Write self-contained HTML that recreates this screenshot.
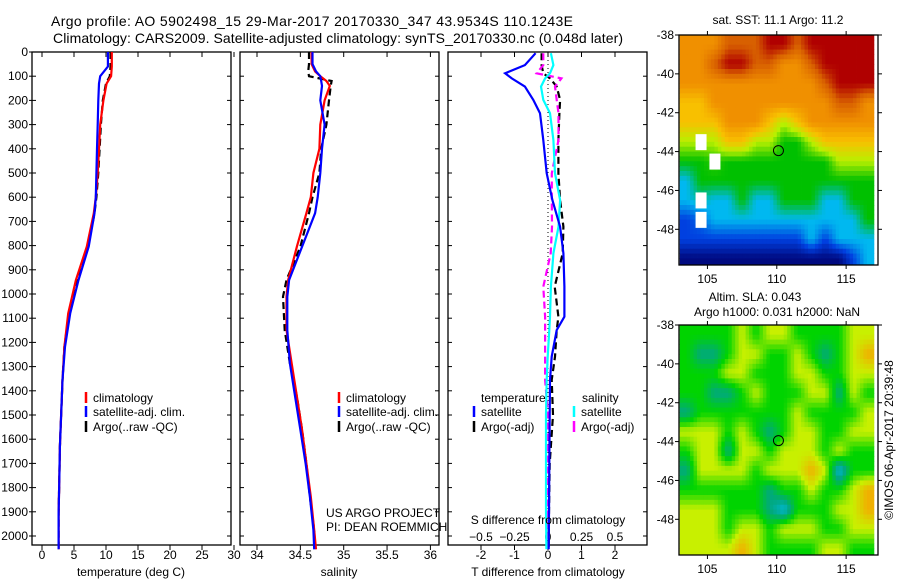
<!DOCTYPE html>
<html><head><meta charset="utf-8"><style>
body{margin:0;background:#fff;}
svg{display:block;font-family:"Liberation Sans",Arial,sans-serif;}
text{fill:#000;}
</style></head><body>
<svg id="fig" width="900" height="580" viewBox="0 0 900 580" xmlns="http://www.w3.org/2000/svg">
<text x="51" y="26" font-size="14" textLength="522">Argo profile: AO 5902498_15 29-Mar-2017 20170330_347 43.9534S 110.1243E</text>
<text x="53" y="43" font-size="14" textLength="570">Climatology: CARS2009. Satellite-adjusted climatology: synTS_20170330.nc (0.048d later)</text>
<g id="p1"></g>
<g id="p2"></g>
<g id="p3"></g>
<g id="m1"></g>
<g id="m2"></g>
<text x="131" y="576" font-size="12" text-anchor="middle">temperature (deg C)</text>
<text x="339" y="576" font-size="12" text-anchor="middle">salinity</text>
<text x="548" y="576" font-size="12" text-anchor="middle">T difference from climatology</text>
<text x="548" y="524" font-size="12" text-anchor="middle">S difference from climatology</text>
<text x="326" y="517" font-size="12">US ARGO PROJECT</text>
<text x="326" y="531" font-size="12">PI: DEAN ROEMMICH</text>
<text x="778" y="24" font-size="12" text-anchor="middle">sat. SST: 11.1 Argo: 11.2</text>
<text x="755" y="301" font-size="12" text-anchor="middle">Altim. SLA: 0.043</text>
<text x="777" y="316" font-size="12" text-anchor="middle">Argo h1000: 0.031 h2000: NaN</text>
<text font-size="12" text-anchor="middle" transform="translate(893,440) rotate(-90)">©IMOS 06-Apr-2017 20:39:48</text>
</svg>
<script>
// ---- profile data (depth in m) ----
const depthT=[0,60,100,130,200,300,400,500,600,666,804,942,1080,1218,1355,1493,1631,1769,1907,2055];
const tempClim=[10.9,10.9,10.8,10.1,9.6,9.1,8.9,8.7,8.4,8.1,7.0,5.3,4.1,3.5,3.2,3.0,2.8,2.7,2.6,2.6];
const tempSat=[10.3,10.3,9.1,8.9,8.8,8.7,8.6,8.5,8.4,8.2,7.3,5.7,4.4,3.6,3.2,3.0,2.8,2.7,2.6,2.6];
const tempArgo=[10.7,10.7,10.6,10.0,9.5,9.2,9.0,8.8,8.5,8.2,7.2,5.5,4.2,3.5,3.2,3.0,2.8,2.7,2.6,2.6];
const depthS=[0,50,80,100,120,140,200,300,400,500,600,666,804,942,1011,1149,1287,1424,1562,1700,1838,1975,2055];
const salClim=[34.63,34.63,34.67,34.73,34.80,34.84,34.78,34.73,34.72,34.65,34.62,34.57,34.46,34.36,34.34,34.34,34.40,34.46,34.52,34.57,34.62,34.66,34.68];
const salSat=[34.64,34.64,34.68,34.73,34.74,34.75,34.73,34.78,34.75,34.73,34.70,34.67,34.52,34.37,34.35,34.35,34.38,34.44,34.50,34.56,34.61,34.65,34.66];
const salArgo=[34.60,34.60,34.59,34.60,34.86,34.85,34.83,34.80,34.74,34.72,34.64,34.60,34.50,34.34,34.30,34.32,34.38,34.46,34.52,34.57,34.61,34.66,34.67];
const depthD=[5,54,88,109,143,198,253,364,501,612,722,832,970,1094,1149,1259,1355,1500,1700,1900,2055];
const dTsat=[-0.37,-0.69,-1.28,-1.08,-0.69,-0.44,-0.24,-0.14,-0.04,0.13,0.36,0.46,0.49,0.49,0.26,0.11,0.06,0.05,0.04,0.03,0.02];
const dTargo=[-0.19,-0.19,-0.14,0.06,0.26,0.36,0.34,0.31,0.31,0.36,0.46,0.44,0.20,0.31,0.26,0.21,0.11,0.15,0.05,0.03,0.02];
const dSsat=[0.022,0.040,0.015,-0.022,-0.052,-0.035,0.015,0.040,0.052,0.090,0.078,0.040,0.022,0.015,0.010,-0.002,-0.010,-0.015,-0.015,-0.015,-0.012];
const dSargo=[-0.035,-0.035,-0.085,0.10,0.052,0.065,0.078,0.078,0.028,0.028,0.030,0.020,-0.035,-0.022,-0.022,-0.022,-0.022,0.0,0.0,0.0,0.002];
const depthTicks=[0,100,200,300,400,500,600,700,800,900,1000,1100,1200,1300,1400,1500,1600,1700,1800,1900,2000];
const tTicks=[0,5,10,15,20,25,30];
const sTicks=[34,34.5,35,35.5,36];
const dTTicks=[-2,-1,0,1,2];
const dSTicks=[-0.5,-0.25,0,0.25,0.5];
// ---- map data ----
const lonTicks=[105,110,115];
const latTicks=[-38,-40,-42,-44,-46,-48];
// SST colour class per 1x1 degree cell (rows lat -38.. -50, cols lon 103..117); 9 = missing
const sstGrid=[
[6,6,6,7,7,7,8,8,7,8,8,8,8,8],
[6,6,7,8,8,7,7,6,6,7,8,8,8,8],
[6,6,6,6,6,6,6,6,6,6,7,8,8,8],
[5,5,6,6,6,6,6,6,6,6,6,7,7,6],
[5,5,5,6,6,6,5,4,5,6,6,6,6,6],
[4,9,4,5,5,4,4,3,3,4,5,5,5,5],
[3,3,9,3,3,3,3,3,3,3,3,4,4,4],
[2,3,3,3,3,3,3,3,3,3,3,3,3,3],
[2,9,2,2,3,2,2,3,3,3,2,2,3,3],
[1,9,2,2,2,2,2,2,2,2,2,2,2,3],
[1,1,1,1,1,1,1,1,1,2,1,2,2,2],
[0,0,0,0,0,0,0,0,0,0,0,0,1,2]];
const slaGrid=[
[0,0,0,0,1,0,1,1,0,0,0,0,1,1],
[0,-1,-1,0,1,1,0,0,1,0,-1,0,1,2],
[0,0,0,1,1,0,0,0,1,1,0,0,1,1],
[0,0,-1,-1,0,1,0,0,0,1,1,-1,1,0],
[-1,0,0,0,0,0,0,0,1,0,0,0,0,1],
[1,1,1,0,1,0,-1,0,1,1,0,0,1,1],
[0,1,1,-1,1,1,0,1,1,1,0,1,0,0],
[-1,1,1,1,1,0,1,1,1,2,1,-2,0,0],
[0,0,0,0,0,0,-1,0,0,1,0,0,1,2],
[1,1,1,0,0,0,-1,-2,0,0,0,1,1,2],
[1,1,1,0,1,1,0,1,1,1,0,0,1,1],
[1,1,1,1,2,1,0,0,0,0,1,1,0,0]];

const NS='http://www.w3.org/2000/svg';
function mk(parent,tag,attrs){const e=document.createElementNS(NS,tag);for(const k in attrs)e.setAttribute(k,attrs[k]);parent.appendChild(e);return e;}
const Y0=52,Y1=545;
const yD=d=>Y0+d*0.242;

function panel(g,x0,x1,xs,ticks,labelY,fmt){
  const r=mk(g,'rect',{x:x0,y:Y0,width:x1-x0,height:Y1-Y0,fill:'none',stroke:'#000','stroke-width':1.3});
  
  
  depthTicks.forEach(d=>{const y=yD(d);
    mk(g,'line',{x1:x0,x2:x0+4,y1:y,y2:y,stroke:'#000'});
    mk(g,'line',{x1:x1-4,x2:x1,y1:y,y2:y,stroke:'#000'});});
  ticks.forEach(v=>{const x=xs(v);
    mk(g,'line',{x1:x,x2:x,y1:Y0,y2:Y0+5,stroke:'#000'});
    mk(g,'line',{x1:x,x2:x,y1:Y1,y2:Y1+5,stroke:'#000'});
    const t=mk(g,'text',{x:x,y:labelY,'font-size':12,'text-anchor':'middle'});
    
    
    t.textContent=fmt?fmt(v):String(v);});
}
function line(g,xs,vals,depths,color,dash,name){
  const pts=vals.map((v,i)=>xs(v).toFixed(1)+','+yD(depths[i]).toFixed(1)).join(' ');
  const p=mk(g,'polyline',{points:pts,fill:'none',stroke:color,'stroke-width':2.2});
  if(dash)p.setAttribute('stroke-dasharray',dash);
  
  
}
function legend(g,x,y,color,label){
  mk(g,'line',{x1:x,x2:x,y1:y-10,y2:y+1,stroke:color,'stroke-width':2.5});
  const t=mk(g,'text',{x:x+7,y:y,'font-size':12});
  
  
  t.textContent=label;
}
const svg=document.getElementById('fig');
depthTicks.forEach(d=>{const t=mk(svg,'text',{x:28,y:yD(d)+4,'font-size':12,'text-anchor':'end'});
  
  
  t.textContent=d;
  mk(svg,'line',{x1:29,x2:32,y1:yD(d),y2:yD(d),stroke:'#000'});});

// panel 1
const g1=document.getElementById('p1');
const xT=v=>42+6.4*v;
panel(g1,32,231,xT,tTicks,559);
line(g1,xT,tempArgo,depthT,'#000','7,4','argo-temperature-line');
line(g1,xT,tempClim,depthT,'#f00',null,'climatology-temperature-line');
line(g1,xT,tempSat,depthT,'#00f',null,'satellite-temperature-line');
legend(g1,86,402,'#f00','climatology');legend(g1,86,416,'#00f','satellite-adj. clim.');legend(g1,86,431,'#000','Argo(..raw -QC)');

// panel 2
const g2=document.getElementById('p2');
const xS=v=>257+86.7*(v-34);
panel(g2,240,439,xS,sTicks,559);
line(g2,xS,salArgo,depthS,'#000','7,4','argo-salinity-line');
line(g2,xS,salClim,depthS,'#f00',null,'climatology-salinity-line');
line(g2,xS,salSat,depthS,'#00f',null,'satellite-salinity-line');
legend(g2,339,402,'#f00','climatology');legend(g2,339,416,'#00f','satellite-adj. clim.');legend(g2,339,431,'#000','Argo(..raw -QC)');

// panel 3
const g3=document.getElementById('p3');
const xDT=v=>548+33.5*v;
const xDS=v=>548+134*v;
panel(g3,448,647,xDT,dTTicks,559);
dSTicks.forEach(v=>{const t=mk(g3,'text',{x:xDS(v),y:541,'font-size':12,'text-anchor':'middle'});
  
  
  t.textContent=String(v).replace(/^-/,'\u2212');});
mk(g3,'line',{x1:548,x2:548,y1:Y0,y2:Y1,stroke:'#000','stroke-dasharray':'1,3'});
line(g3,xDT,dTargo,depthD,'#000','7,4','argo-tdiff-line');
line(g3,xDS,dSargo,depthD,'#f0f','7,4','argo-sdiff-line');
line(g3,xDS,dSsat,depthD,'#0ff',null,'satellite-sdiff-line');
line(g3,xDT,dTsat,depthD,'#00f',null,'satellite-tdiff-line');
let th=mk(g3,'text',{x:481,y:402,'font-size':12});th.textContent='temperature';

let sh=mk(g3,'text',{x:582,y:402,'font-size':12});sh.textContent='salinity';

legend(g3,474,416,'#00f','satellite');legend(g3,474,431,'#000','Argo(-adj)');
legend(g3,574,416,'#0ff','satellite');legend(g3,574,431,'#f0f','Argo(-adj)');

// maps (bilinear interpolation of grid values to sub-cells, continuous colormap)
const sstStops=[[0,[0,10,128]],[1,[0,64,224]],[2,[0,184,240]],[3,[0,192,0]],[4,[184,240,0]],[5,[248,192,0]],[6,[240,144,0]],[7,[216,96,0]],[8,[176,0,0]]];
const slaStops=[[-2,[0,184,216]],[-1,[0,168,128]],[0,[0,212,0]],[1,[200,240,0]],[2,[240,176,0]]];
function cmap(stops,v){
  if(v<=stops[0][0])return stops[0][1];
  for(let i=1;i<stops.length;i++){if(v<=stops[i][0]){const a=stops[i-1],b=stops[i],f=(v-a[0])/(b[0]-a[0]);
    return a[1].map((c,k)=>Math.round(c+(b[1][k]-c)*f));}}
  return stops[stops.length-1][1];
}
function cleanGrid(grid){
  return grid.map((row,i)=>row.map((v,j)=>{if(v!==9)return v;
    let s=0,n=0;[[i-1,j],[i+1,j],[i,j-1],[i,j+1]].forEach(([a,b])=>{if(grid[a]&&grid[a][b]!==undefined&&grid[a][b]!==9){s+=grid[a][b];n++;}});
    return n?s/n:3;}));
}
function sample(g,r,c){
  const R=g.length-1,C=g[0].length-1;
  r=Math.max(0,Math.min(R,r));c=Math.max(0,Math.min(C,c));
  const r0=Math.floor(r),c0=Math.floor(c),r1=Math.min(R,r0+1),c1=Math.min(C,c0+1),fr=r-r0,fc=c-c0;
  return g[r0][c0]*(1-fr)*(1-fc)+g[r0][c1]*(1-fr)*fc+g[r1][c0]*fr*(1-fc)+g[r1][c1]*fr*fc;
}
function map(gid,top,grid,stops,name,missing){
  const g=document.getElementById(gid);
  const L=679,R=878,B=top+230;
  const xL=lon=>L+(lon-102.95)*13.87;
  const yL=lat=>top+(-38-lat)*19.43;
  const cp=mk(g,'clipPath',{id:'c'+gid});mk(cp,'rect',{x:L,y:top,width:R-L,height:B-top});
  const cg=mk(g,'g',{'clip-path':'url(#c'+gid+')'});
  const cg2=cleanGrid(grid);
  const SUB=4;
  for(let i=0;i<grid.length*SUB;i++)for(let j=0;j<grid[0].length*SUB;j++){
    const v=sample(cg2,(i+0.5)/SUB-0.5,(j+0.5)/SUB-0.5);
    const col=cmap(stops,v);
    const x=xL(103+j/SUB),y=yL(-38-i/SUB);
    const c=mk(cg,'rect',{x:x.toFixed(2),y:y.toFixed(2),width:(13.87/SUB+0.4).toFixed(2),height:(19.43/SUB+0.4).toFixed(2),fill:'rgb('+col.join(',')+')'});
    
    
  }
  if(missing){grid.forEach((row,i)=>row.forEach((v,j)=>{if(v===9){
    const c=mk(cg,'rect',{x:xL(103+j)+2,y:yL(-38-i)+2,width:11,height:16,fill:'#fff'});
    
    }}));}
  const fr=mk(g,'rect',{x:L,y:top,width:R-L,height:B-top,fill:'none',stroke:'#000','stroke-width':1.3});
  
  lonTicks.forEach(v=>{const x=xL(v);
    mk(g,'line',{x1:x,x2:x,y1:top-4,y2:top,stroke:'#000'});mk(g,'line',{x1:x,x2:x,y1:B,y2:B+4,stroke:'#000'});
    const t=mk(g,'text',{x:x,y:B+18,'font-size':12,'text-anchor':'middle'});t.textContent=v;
    });
  latTicks.forEach(v=>{const y=yL(v);
    mk(g,'line',{x1:L-4,x2:L,y1:y,y2:y,stroke:'#000'});mk(g,'line',{x1:R,x2:R+4,y1:y,y2:y,stroke:'#000'});
    const t=mk(g,'text',{x:L-5,y:y+4,'font-size':12,'text-anchor':'end'});t.textContent=v;
    });
  const m=mk(g,'circle',{cx:xL(110.12),cy:yL(-43.95),r:5,fill:'none',stroke:'#000','stroke-width':1});
  
}
map('m1',35,sstGrid,sstStops,'sst',true);
map('m2',325,slaGrid,slaStops,'sla',false);
</script>
</body></html>
